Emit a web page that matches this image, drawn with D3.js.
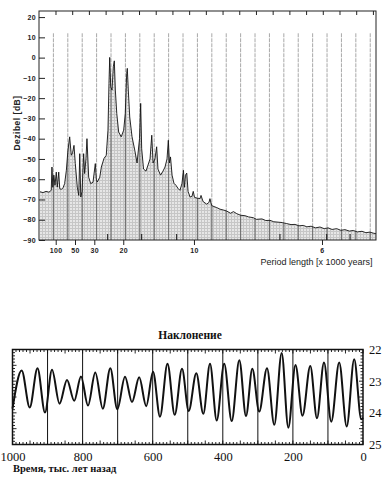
<!DOCTYPE html>
<html>
<head>
<meta charset="utf-8">
<script src="https://cdn.jsdelivr.net/npm/d3@7"></script>
<style>
  body { margin: 0; background: #fff; }
  svg { display: block; }
</style>
</head>
<body>
<svg id="drawing_region"></svg>
<script>
// spectrum: frequency in cycles per 1000 kyr, power in dB
const specFreq = [0.7, 2.8, 4.9, 6.9, 8.5, 9.0, 9.6, 10.3, 11.1, 12.0, 12.7, 13.7, 14.4, 15.6, 16.7, 17.8,
    19.0, 20.1, 21.3, 22.4, 23.3, 24.3, 25.2, 26.6, 27.6, 28.3, 29.0, 29.9, 31.0, 31.7, 32.6, 33.3,
    34.5, 35.9, 37.5, 39.1, 39.8, 40.5, 42.2, 43.3, 45.1, 46.7, 47.9, 48.6, 49.1, 49.8, 50.7, 51.6,
    52.3, 53.0, 54.0, 55.3, 57.1, 58.8, 59.9, 60.9, 61.3, 62.0, 63.0, 64.6, 66.5, 68.1, 69.8, 70.6,
    71.3, 72.6, 74.3, 75.7, 77.1, 78.3, 79.2, 80.5, 81.7, 82.6, 84.4, 86.1, 87.5, 88.9, 89.8, 90.6,
    91.3, 92.4, 93.7, 95.1, 96.5, 97.9, 99.3, 100.3, 101.0, 101.7, 102.6, 103.5, 104.9, 106.2, 107.1, 108.0,
    109.7, 111.8, 112.5, 113.9, 116.4, 118.0, 118.7, 119.9, 121.5, 123.4, 125.7, 128.0, 130.3, 133.0,
    135.0, 137.3, 140.0, 143.0, 145.5, 148.8, 151.0, 154.8, 157.5, 160.4, 163.0, 166.0, 169.0, 172.0,
    175.0, 177.8, 180.5, 183.5, 186.0, 188.9, 192.0, 195.1, 198.0, 200.7, 203.5, 206.7, 209.5, 212.5,
    215.5, 218.2, 221.0, 224.3, 227.0, 229.8, 232.0, 234.0];
const specDb = [-66.2, -66.6, -66.0, -66.4, -65.5, -54.0, -64.0, -58.0, -63.0, -56.5, -63.9, -56.5, -64.7, -65.0, -64.2, -62.2,
    -55.6, -45.7, -39.1, -48.2, -47.0, -43.3, -52.3, -63.9, -68.0, -47.4, -68.8, -66.0, -47.4, -57.2, -50.0, -40.0,
    -59.0, -62.2, -61.5, -52.3, -60.0, -61.4, -59.0, -54.0, -49.8, -48.2, -35.8, -12.7, 0.1, -14.4, -16.0, -4.5,
    -1.6, -16.0, -27.6, -36.7, -39.1, -35.8, -27.6, -7.8, -5.3, -16.0, -29.3, -39.1, -45.7, -52.0, -40.0, -22.6,
    -45.0, -55.0, -56.0, -53.0, -50.0, -38.3, -52.0, -50.0, -44.0, -55.0, -58.0, -56.0, -54.0, -50.0, -40.8, -52.0,
    -49.0, -58.0, -62.0, -63.0, -64.5, -65.5, -62.0, -55.6, -64.0, -58.0, -57.0, -66.0, -68.8, -68.5, -66.0, -69.0,
    -69.3, -69.6, -68.0, -71.0, -72.3, -71.5, -69.6, -73.0, -73.5, -74.0, -74.8, -75.2, -75.7, -76.8,
    -76.0, -77.0, -77.8, -78.0, -78.6, -79.0, -79.8, -79.6, -80.4, -80.3, -81.0, -81.2, -81.4, -81.9,
    -82.4, -82.3, -83.0, -82.8, -83.5, -83.2, -84.0, -83.6, -84.4, -84.0, -84.8, -84.4, -85.2, -84.9,
    -85.6, -85.3, -86.0, -85.7, -86.4, -86.1, -86.6, -86.9];

const gridFreq = d3.range(10, 231, 10);
const periodLabels = ['100', '50', '30', '20', '10', '6'];
const periodTickFreq = [11.6, 25.0, 38.4, 58.5, 107.6, 196.5];
const dbTicks = [20, 10, 0, -10, -20, -30, -40, -50, -60, -70, -80, -90];
const innerTickFreq = [47.7, 71.3, 95.6, 167.3, 199.8, 216.0];

// obliquity: time in kyr before present, angle in degrees
const oblTime = [1000, 973.8, 950.9, 928.7, 907.3, 887.3, 865.9, 844.5, 823.9, 804.6, 784.6, 763.8, 742.4,
    720.9, 701.0, 679.0, 659.1, 638.5, 618.5, 599.1, 579.2, 557.8, 537.2, 516.4, 497.3, 475.6, 455.6,
    436.5, 417.4, 396.0, 374.6, 352.9, 333.8, 315.8, 296.1, 273.9, 253.1, 232.0, 213.1, 192.6, 172.6,
    150.4, 131.3, 111.3, 90.5, 67.9, 46.5, 25.1, 5.0, 0];
const oblDeg = [23.87, 22.66, 23.83, 22.59, 23.99, 22.64, 23.71, 22.96, 23.62, 22.85, 23.77, 22.73, 23.87,
    22.59, 23.89, 22.86, 23.66, 22.88, 23.79, 22.70, 24.12, 22.45, 24.06, 22.61, 23.94, 22.75, 24.03,
    22.45, 24.24, 22.45, 24.26, 22.34, 24.10, 22.61, 23.96, 22.59, 24.38, 22.11, 24.47, 22.49, 24.09,
    22.52, 24.17, 22.41, 24.28, 22.41, 24.43, 22.31, 24.20, 24.15];
const timeTicks = [1000, 800, 600, 400, 200, 0];
const degTicks = [22, 23, 24, 25];

const width = 387;
const height = 488;

const svg = d3.select('#drawing_region')
    .attr('width', width)
    .attr('height', height);

drawSpectrum();
drawObliquity();

function drawSpectrum() {
    const left = 39, right = 376, top = 11, bottom = 240;

    const xscale = d3.scaleLinear().domain([0, 234]).range([left, right]);
    const yscale = d3.scaleLinear().domain([-90, 23]).range([bottom, top]);

    const data = specFreq.map((f, i) => ({ f: f, db: specDb[i] }));

    const defs = svg.append('defs');
    const pat = defs.append('pattern')
        .attr('id', 'mesh')
        .attr('width', 3)
        .attr('height', 3)
        .attr('patternUnits', 'userSpaceOnUse');
    pat.append('rect').attr('width', 3).attr('height', 3).attr('fill', '#e6e6e6');
    pat.append('path')
        .attr('d', 'M0 0.5H3M0.5 0V3')
        .attr('stroke', '#c6c6c6')
        .attr('stroke-width', 1);

    const area = d3.area()
        .x(d => xscale(d.f))
        .y0(yscale(-90))
        .y1(d => yscale(d.db));

    defs.append('clipPath').attr('id', 'under')
        .append('path').attr('d', area(data));

    svg.append('path')
        .attr('d', area(data))
        .attr('fill', 'url(#mesh)');

    // grey period lines
    svg.append('g').selectAll('line')
        .data(gridFreq)
        .enter().append('line')
        .attr('x1', d => xscale(d)).attr('x2', d => xscale(d))
        .attr('y1', yscale(12)).attr('y2', yscale(-90))
        .attr('stroke', '#a8a8a8')
        .attr('stroke-width', 1)
        .attr('stroke-dasharray', '4,1');

    svg.append('g').attr('clip-path', 'url(#under)')
        .selectAll('line')
        .data(gridFreq)
        .enter().append('line')
        .attr('x1', d => xscale(d)).attr('x2', d => xscale(d))
        .attr('y1', yscale(12)).attr('y2', yscale(-90))
        .attr('stroke', '#6e6e6e')
        .attr('stroke-width', 1);

    svg.append('path')
        .datum(data)
        .attr('d', d3.line().x(d => xscale(d.f)).y(d => yscale(d.db)))
        .attr('fill', 'none')
        .attr('stroke', '#111')
        .attr('stroke-width', 0.9);

    // frame
    svg.append('rect')
        .attr('x', left).attr('y', top)
        .attr('width', right - left).attr('height', bottom - top)
        .attr('fill', 'none')
        .attr('stroke', '#222')
        .attr('stroke-width', 1);

    // top edge ticks
    svg.append('g').selectAll('line')
        .data(d3.range(11.8, 234, 11.6))
        .enter().append('line')
        .attr('x1', d => xscale(d)).attr('x2', d => xscale(d))
        .attr('y1', top).attr('y2', top + 4)
        .attr('stroke', '#222');

    // small inner ticks at the bottom
    svg.append('g').selectAll('line')
        .data(innerTickFreq)
        .enter().append('line')
        .attr('x1', d => xscale(d)).attr('x2', d => xscale(d))
        .attr('y1', bottom).attr('y2', bottom - 6)
        .attr('stroke', '#111');

    const yaxis = svg.append('g')
        .attr('transform', `translate(${left}, 0)`)
        .call(d3.axisLeft(yscale).tickValues(dbTicks).tickSize(-6).tickPadding(3));
    yaxis.select('.domain').remove();
    yaxis.selectAll('line').attr('stroke', '#222');
    yaxis.selectAll('text')
        .attr('font-family', 'Liberation Sans, Arial, sans-serif')
        .attr('font-size', '7px')
        .attr('font-weight', 'bold')
        .attr('fill', '#222')
        .attr('letter-spacing', '0.4px');

    const xaxis = svg.append('g')
        .attr('transform', `translate(0, ${bottom})`)
        .call(d3.axisBottom(xscale)
            .tickValues(periodTickFreq)
            .tickFormat((d, i) => periodLabels[i])
            .tickSize(5).tickPadding(3));
    xaxis.select('.domain').remove();
    xaxis.selectAll('line').attr('stroke', '#222');
    xaxis.selectAll('text')
        .attr('font-family', 'Liberation Sans, Arial, sans-serif')
        .attr('font-size', '7px')
        .attr('font-weight', 'bold')
        .attr('fill', '#222')
        .attr('letter-spacing', '0.4px');

    svg.append('text')
        .attr('x', 372.5)
        .attr('y', 265)
        .attr('text-anchor', 'end')
        .attr('font-family', 'Liberation Sans, Arial, sans-serif')
        .attr('font-size', '9px')
        .attr('fill', '#222')
        .text('Period length [x 1000 years]');

    svg.append('text')
        .attr('transform', 'rotate(-90)')
        .attr('x', -123)
        .attr('y', 20)
        .attr('text-anchor', 'middle')
        .attr('font-family', 'Liberation Sans, Arial, sans-serif')
        .attr('font-size', '8.5px')
        .attr('font-weight', 'bold')
        .attr('fill', '#222')
        .attr('letter-spacing', '0.5px')
        .text('Dezibel [dB]');
}

function drawObliquity() {
    const left = 12.5, right = 363, top = 349.5, bottom = 444.5;

    const xscale = d3.scaleLinear().domain([1000, 0]).range([left, right]);
    const yscale = d3.scaleLinear().domain([22, 25]).range([top, bottom]);

    const data = oblTime.map((t, i) => ({ t: t, v: oblDeg[i] }));

    svg.append('text')
        .attr('x', 190)
        .attr('y', 339)
        .attr('text-anchor', 'middle')
        .attr('font-family', 'Liberation Serif, Times New Roman, serif')
        .attr('font-size', '11.5px')
        .attr('font-weight', 'bold')
        .attr('fill', '#111')
        .text('Наклонение');

    // century lines
    svg.append('g').selectAll('line')
        .data(d3.range(100, 1000, 100))
        .enter().append('line')
        .attr('x1', d => xscale(d)).attr('x2', d => xscale(d))
        .attr('y1', top).attr('y2', bottom)
        .attr('stroke', '#111')
        .attr('stroke-width', 1);

    // minor ticks on top and bottom
    const tt = d3.range(0, 1001, 10);
    const tlen = d => (d % 50 === 0 ? 4 : 2.5);
    svg.append('g').selectAll('line')
        .data(tt)
        .enter().append('line')
        .attr('x1', d => xscale(d)).attr('x2', d => xscale(d))
        .attr('y1', top).attr('y2', d => top + tlen(d))
        .attr('stroke', '#111').attr('stroke-width', 0.9);
    svg.append('g').selectAll('line')
        .data(tt)
        .enter().append('line')
        .attr('x1', d => xscale(d)).attr('x2', d => xscale(d))
        .attr('y1', bottom).attr('y2', d => bottom - tlen(d))
        .attr('stroke', '#111').attr('stroke-width', 0.9);

    // minor ticks on the sides
    const vt = d3.range(0, 31).map(i => 22 + i / 10);
    const vlen = (d, i) => (i % 5 === 0 ? 4 : 2.5);
    svg.append('g').selectAll('line')
        .data(vt)
        .enter().append('line')
        .attr('x1', left).attr('x2', (d, i) => left + vlen(d, i))
        .attr('y1', d => yscale(d)).attr('y2', d => yscale(d))
        .attr('stroke', '#111').attr('stroke-width', 0.9);
    svg.append('g').selectAll('line')
        .data(vt)
        .enter().append('line')
        .attr('x1', right).attr('x2', (d, i) => right - vlen(d, i))
        .attr('y1', d => yscale(d)).attr('y2', d => yscale(d))
        .attr('stroke', '#111').attr('stroke-width', 0.9);

    svg.append('path')
        .datum(data)
        .attr('d', d3.line().curve(d3.curveMonotoneX)
            .x(d => xscale(d.t)).y(d => yscale(d.v)))
        .attr('fill', 'none')
        .attr('stroke', '#111')
        .attr('stroke-width', 2);

    svg.append('rect')
        .attr('x', left).attr('y', top)
        .attr('width', right - left).attr('height', bottom - top)
        .attr('fill', 'none')
        .attr('stroke', '#111')
        .attr('stroke-width', 1.5);

    const xaxis = svg.append('g')
        .attr('transform', `translate(0, ${bottom})`)
        .call(d3.axisBottom(xscale).tickValues(timeTicks)
            .tickFormat(d3.format('d')).tickSize(0).tickPadding(7.5));
    xaxis.select('.domain').remove();
    xaxis.selectAll('text')
        .attr('font-family', 'Liberation Serif, Times New Roman, serif')
        .attr('font-size', '12.5px')
        .attr('fill', '#111');

    const yaxis = svg.append('g')
        .attr('transform', `translate(${right}, 0)`)
        .call(d3.axisRight(yscale).tickValues(degTicks)
            .tickFormat(d3.format('d')).tickSize(0).tickPadding(6));
    yaxis.select('.domain').remove();
    yaxis.selectAll('text')
        .attr('font-family', 'Liberation Serif, Times New Roman, serif')
        .attr('font-size', '12.5px')
        .attr('fill', '#111');

    svg.append('text')
        .attr('x', 13)
        .attr('y', 472)
        .attr('font-family', 'Liberation Serif, Times New Roman, serif')
        .attr('font-size', '10.5px')
        .attr('font-weight', 'bold')
        .attr('fill', '#111')
        .text('Время, тыс. лет назад');
}
</script>
</body>
</html>
